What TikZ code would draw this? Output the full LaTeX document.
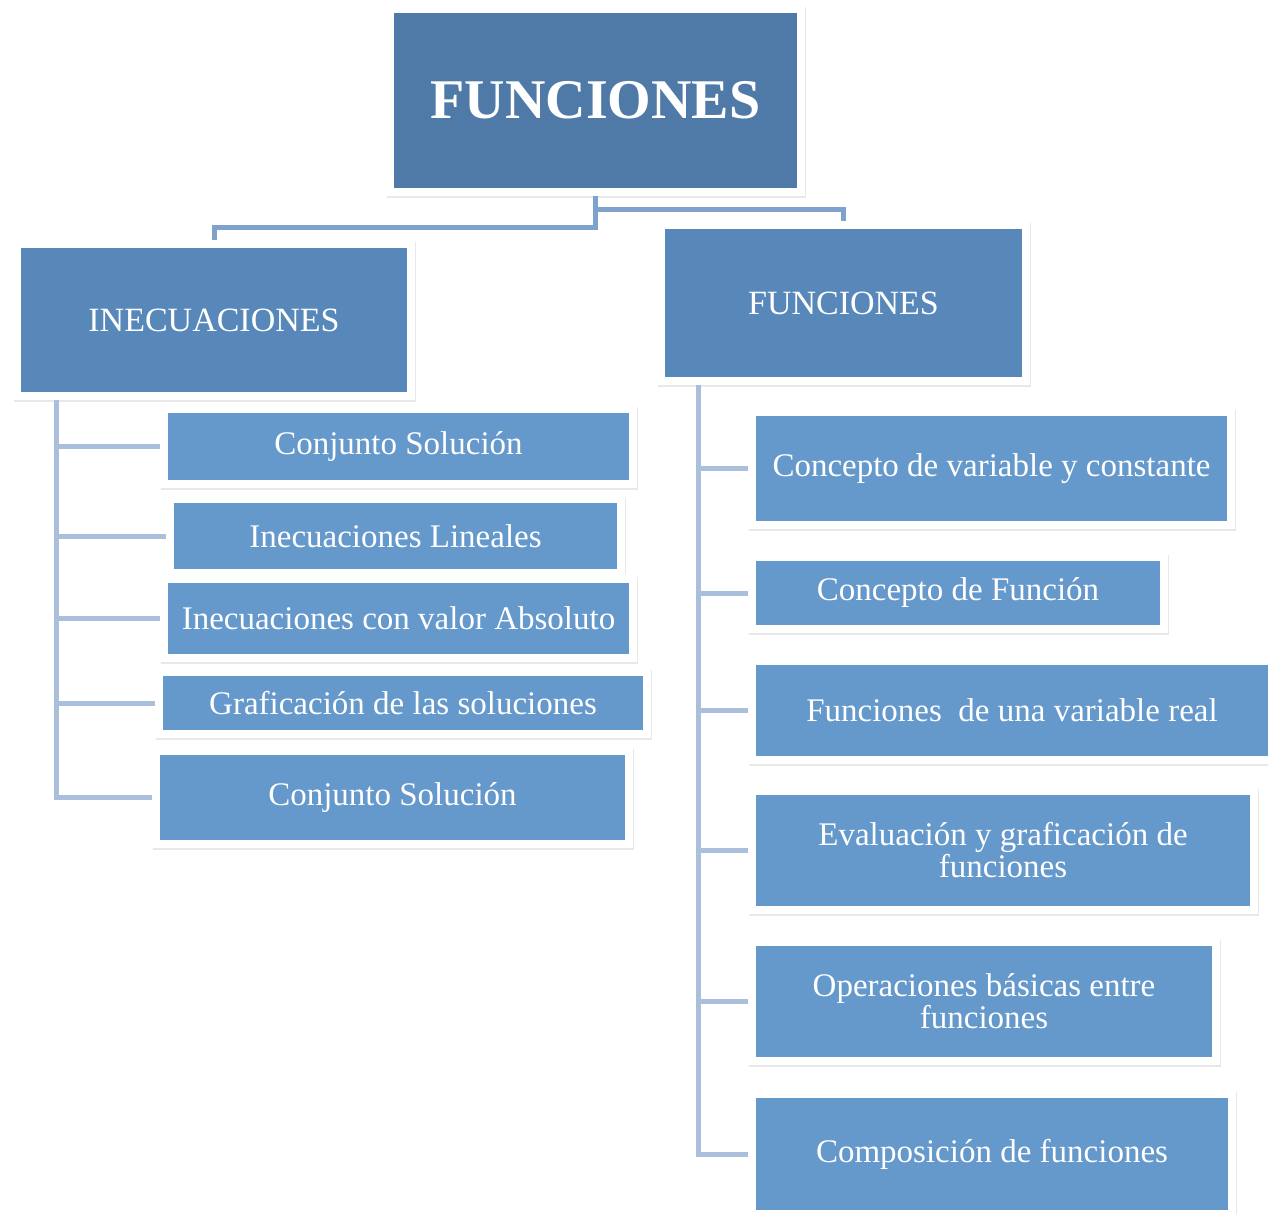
\documentclass[tikz,border=0pt]{standalone}
\usepackage{fontspec}
\setmainfont{Liberation Serif}
\usepackage{tikz}
\usetikzlibrary{shadows}

\definecolor{topblue}{HTML}{4F7AA8}
\definecolor{midblue}{HTML}{5888BA}
\definecolor{leafblue}{HTML}{6598CB}
\definecolor{linkblue}{HTML}{7FA2CD}
\definecolor{trunkblue}{HTML}{A9BFDC}

\tikzset{
  boxcolor/.store in=\boxcolor, boxcolor=leafblue,
  framebox/.style={rectangle, fill=white, inner sep=0pt, text=white, align=center,
    drop shadow={shadow xshift=0.6pt, shadow yshift=-1pt, opacity=.18},
    path picture={\fill[\boxcolor]
      ([shift={(4pt,4pt)}]path picture bounding box.south west) rectangle
      ([shift={(-4pt,-4pt)}]path picture bounding box.north east);}},
  rootbox/.style={framebox, boxcolor=topblue, font=\fontsize{28}{30}\selectfont\bfseries},
  headbox/.style={framebox, boxcolor=midblue, font=\fontsize{17}{18}\selectfont},
  leafbox/.style={framebox, boxcolor=leafblue, font=\fontsize{16.5}{16}\selectfont},
  toplink/.style={draw=linkblue, line width=2.5pt},
  trunk/.style={draw=trunkblue, line width=2.5pt}
}

\begin{document}
\begin{tikzpicture}[x=0.5pt, y=-0.5pt]

    \useasboundingbox (0,0) rectangle (1268,1214);

    \node[rootbox, minimum width=209.5pt, minimum height=95.5pt] (root) at (595.5,100.5) {FUNCIONES};

    \node[headbox, minimum width=201pt, minimum height=80pt] (inec) at (214,320) {INECUACIONES};
    \node[headbox, minimum width=186.5pt, minimum height=82pt] (func) at (843.5,303) {FUNCIONES};

    \draw[toplink] (root.south) -- ++(0,31) -| (inec.north);
    \draw[toplink] (root.south) ++(0,13) -| (func.north);



    \begin{scope}

      \node[leafbox, minimum width=238.5pt, minimum height=41.5pt] (inec1) at (398.5,446.5) {Conjunto Solución};
      \node[leafbox, minimum width=229.5pt, minimum height=41pt] (inec2) at (395.5,536) {Inecuaciones Lineales};
      \node[leafbox, minimum width=238.5pt, minimum height=43.5pt] (inec3) at (398.5,618.5) {Inecuaciones con valor Absoluto};
      \node[leafbox, minimum width=248pt, minimum height=35pt] (inec4) at (403,703) {Graficación de las soluciones};
      \node[leafbox, minimum width=240.5pt, minimum height=50.5pt] (inec5) at (392.5,797.5) {Conjunto Solución};

      \coordinate (inectrunk) at ([xshift=22pt]inec.south west);
      \foreach \n in {inec1,inec2,inec3,inec4,inec5}
        \draw[trunk] (inectrunk) |- (\n.west);

    \end{scope}



    \begin{scope}

      \node[leafbox, minimum width=243.5pt, minimum height=60.5pt] (func1) at (991.5,468.5) {Concepto de variable y constante};
      \node[leafbox, minimum width=210pt, minimum height=40pt] (func2) at (958,593) {Concepto de Función};
      \node[leafbox, minimum width=264pt, minimum height=53.5pt] (func3) at (1012,710.5) {Funciones~ de una variable real};
      \node[leafbox, minimum width=255pt, minimum height=63.5pt] (func4) at (1003,850.5) {Evaluación y graficación de\\funciones};
      \node[leafbox, minimum width=236pt, minimum height=63.5pt] (func5) at (984,1001.5) {Operaciones básicas entre\\funciones};
      \node[leafbox, minimum width=244pt, minimum height=64pt] (func6) at (992,1154) {Composición de funciones};

      \coordinate (functrunk) at ([xshift=21pt]func.south west);
      \foreach \n in {func1,func2,func3,func4,func5,func6}
        \draw[trunk] (functrunk) |- (\n.west);

    \end{scope}

  \end{tikzpicture}
\end{document}
